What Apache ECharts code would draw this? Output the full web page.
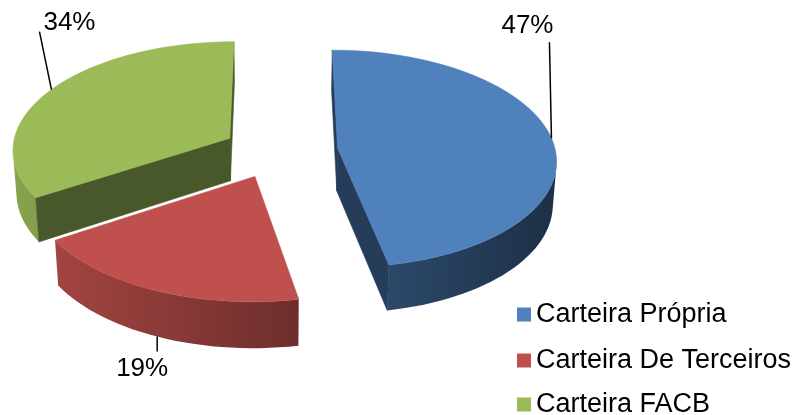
<!DOCTYPE html>
<html><head><meta charset="utf-8">
<script src="https://cdn.jsdelivr.net/npm/echarts/dist/echarts.min.js"></script>
<style>html,body{margin:0;padding:0;background:#fff}#c{width:796px;height:415px}</style>
</head><body><div id="c"></div>
<script>
// ---- data ----
const categories = ['Carteira Própria', 'Carteira De Terceiros', 'Carteira FACB'];
const values = [47, 19, 34];
const percentLabels = ['47%', '19%', '34%'];
const colors = ['#4F81BD', '#C0504D', '#9BBB59'];

// ---- 3D view settings (not data) ----
const VIEW = { phi: 31 * Math.PI / 180, D: 9, h: 0.23, start: 0, steps: 160 };
const EXPLODE = [0.28, 0.25, 0.25];
const DRAW_Z = [3, 4, 2];
// label anchor on top (h) or bottom (0) edge, leader line end offset and text offset (px)
const LABEL_LAYOUT = [
  { onTop: true,  line: [-2, -96], text: [-22, -16] },
  { onTop: false, line: [0, 15],  text: [-15, 17] },
  { onTop: true,  line: [-12, -58], text: [30, -9] }
];
const LEGEND_TOPS = [301, 347, 391];
const FONT = '"Liberation Sans", Arial, sans-serif';

const total = values.reduce((a, b) => a + b, 0);
const DEG = Math.PI / 180;
const sinP = Math.sin(VIEW.phi), cosP = Math.cos(VIEW.phi);
const CAM = [0, -VIEW.D * cosP, VIEW.D * sinP];

function project(X, Y, Z) {
  const w = VIEW.D + Y * cosP - Z * sinP;
  const k = VIEW.D / w;
  return [X * k, (Y * sinP + Z * cosP) * k];
}
function shade(hex, f) {
  const n = parseInt(hex.slice(1), 16);
  const r = Math.round(((n >> 16) & 255) * f), g = Math.round(((n >> 8) & 255) * f), b = Math.round((n & 255) * f);
  return 'rgb(' + r + ',' + g + ',' + b + ')';
}
function visible(normal, P) {
  return normal[0] * (CAM[0] - P[0]) + normal[1] * (CAM[1] - P[1]) + normal[2] * (CAM[2] - P[2]) > 0;
}

function makeRender(i) {
  return function (params, api) {
    const val = api.value(2);
    let cum = 0;
    for (let j = 0; j < i; j++) cum += values[j];
    const a0 = (VIEW.start + 360 * cum / total) * DEG;
    const a1 = a0 + 360 * val / total * DEG;
    const am = (a0 + a1) / 2;
    const e = EXPLODE[i];
    const Ox = e * Math.sin(am), Oy = e * Math.cos(am);
    const h = VIEW.h;
    const base = colors[i];
    const px = (X, Y, Z) => api.coord(project(X, Y, Z));
    const arc = (t, Z) => px(Ox + Math.sin(t), Oy + Math.cos(t), Z);
    const children = [];
    const n = Math.max(8, Math.round(VIEW.steps * val / total));
    // curved side: one polygon over the visible angular range, shaded by a horizontal gradient
    let first = -1, last = -1;
    for (let j = 0; j < n; j++) {
      const tm = a0 + (a1 - a0) * (j + 0.5) / n;
      const nrm = [Math.sin(tm), Math.cos(tm), 0];
      const P = [Ox + Math.sin(tm), Oy + Math.cos(tm), h / 2];
      if (visible(nrm, P)) { if (first < 0) first = j; last = j; }
    }
    if (first >= 0) {
      const pts = [];
      for (let j = first; j <= last + 1; j++) pts.push(arc(a0 + (a1 - a0) * j / n, h));
      for (let j = last + 1; j >= first; j--) pts.push(arc(a0 + (a1 - a0) * j / n, 0));
      const xl = px(Ox - 1, Oy, h / 2)[0], xr = px(Ox + 1, Oy, h / 2)[0];
      const grad = new echarts.graphic.LinearGradient(xl, 0, xr, 0, [
        { offset: 0, color: shade(base, 0.87) },
        { offset: 1, color: shade(base, 0.37) }
      ], true);
      children.push({ type: 'polygon', shape: { points: pts }, style: { fill: grad } });
    }
    // radial cut faces
    [[a0, [-Math.cos(a0), Math.sin(a0), 0]], [a1, [Math.cos(a1), -Math.sin(a1), 0]]].forEach(([a, nrm]) => {
      const P = [Ox + Math.sin(a) / 2, Oy + Math.cos(a) / 2, h / 2];
      if (!visible(nrm, P)) return;
      const col = shade(base, 0.47);
      children.push({
        type: 'polygon',
        shape: { points: [px(Ox, Oy, 0), px(Ox, Oy, h), arc(a, h), arc(a, 0)] },
        style: { fill: col, stroke: col, lineWidth: 0.6 }
      });
    });
    // top face
    const top = [px(Ox, Oy, h)];
    for (let j = 0; j <= n; j++) top.push(arc(a0 + (a1 - a0) * j / n, h));
    children.push({ type: 'polygon', shape: { points: top }, style: { fill: base, stroke: base, lineWidth: 0.6 } });
    // label with leader line
    const L = LABEL_LAYOUT[i];
    const anc = arc(am, L.onTop ? h : 0);
    const end = [anc[0] + L.line[0], anc[1] + L.line[1]];
    children.push({ type: 'polyline', shape: { points: [anc, end] }, style: { stroke: '#000', lineWidth: 1.5, fill: null } });
    children.push({
      type: 'text',
      style: {
        text: percentLabels[i], x: end[0] + L.text[0], y: end[1] + L.text[1],
        fill: '#000', fontSize: 26, fontFamily: FONT,
        align: 'center', verticalAlign: 'middle', textAlign: 'center', textVerticalAlign: 'middle'
      }
    });
    return { type: 'group', children };
  };
}

const chart = echarts.init(document.getElementById('c'), null, { renderer: 'canvas' });
chart.setOption({
  animation: false,
  backgroundColor: '#fff',
  grid: { left: 0, right: 0, top: 0, bottom: 0 },
  xAxis: { type: 'value', min: -1.2884, max: 2.414, show: false },
  yAxis: { type: 'value', min: -1.0279, max: 0.9023, show: false },
  legend: categories.map((name, i) => ({
    orient: 'vertical', left: 517, top: LEGEND_TOPS[i], padding: 0,
    itemWidth: 14, itemHeight: 14, icon: 'rect',
    selectedMode: false,
    data: [name],
    textStyle: { fontSize: 27, lineHeight: 27, color: '#000', fontFamily: FONT }
  })),
  series: categories.map((name, i) => ({
    type: 'custom',
    name: name,
    z: DRAW_Z[i],
    silent: true,
    clip: false,
    itemStyle: { color: colors[i] },
    renderItem: makeRender(i),
    data: [[0, 0, values[i]]]
  }))
});
</script>
</body></html>
